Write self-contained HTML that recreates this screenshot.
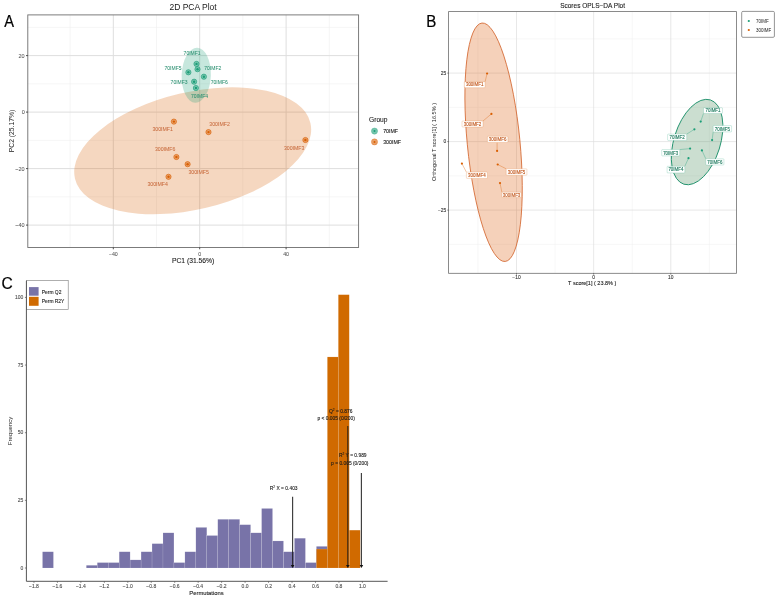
<!DOCTYPE html>
<html><head><meta charset="utf-8"><style>
html,body{margin:0;padding:0;background:#fff;}
body{width:777px;height:598px;overflow:hidden;font-family:"Liberation Sans",sans-serif;}
svg{display:block;will-change:transform;}
</style></head><body>
<svg width="777" height="598" viewBox="0 0 777 598" font-family="Liberation Sans, sans-serif">
<rect width="777" height="598" fill="#fff"/>
<line x1="70.10" y1="14.9" x2="70.10" y2="247.5" stroke="#eeeeee" stroke-width="0.6"/>
<line x1="156.50" y1="14.9" x2="156.50" y2="247.5" stroke="#eeeeee" stroke-width="0.6"/>
<line x1="242.90" y1="14.9" x2="242.90" y2="247.5" stroke="#eeeeee" stroke-width="0.6"/>
<line x1="329.30" y1="14.9" x2="329.30" y2="247.5" stroke="#eeeeee" stroke-width="0.6"/>
<line x1="27.8" y1="196.85" x2="358.6" y2="196.85" stroke="#eeeeee" stroke-width="0.6"/>
<line x1="27.8" y1="140.35" x2="358.6" y2="140.35" stroke="#eeeeee" stroke-width="0.6"/>
<line x1="27.8" y1="83.85" x2="358.6" y2="83.85" stroke="#eeeeee" stroke-width="0.6"/>
<line x1="27.8" y1="27.35" x2="358.6" y2="27.35" stroke="#eeeeee" stroke-width="0.6"/>
<line x1="113.30" y1="14.9" x2="113.30" y2="247.5" stroke="#dedede" stroke-width="1"/>
<line x1="199.70" y1="14.9" x2="199.70" y2="247.5" stroke="#dedede" stroke-width="1"/>
<line x1="286.10" y1="14.9" x2="286.10" y2="247.5" stroke="#dedede" stroke-width="1"/>
<line x1="27.8" y1="225.10" x2="358.6" y2="225.10" stroke="#dedede" stroke-width="1"/>
<line x1="27.8" y1="168.60" x2="358.6" y2="168.60" stroke="#dedede" stroke-width="1"/>
<line x1="27.8" y1="112.10" x2="358.6" y2="112.10" stroke="#dedede" stroke-width="1"/>
<line x1="27.8" y1="55.60" x2="358.6" y2="55.60" stroke="#dedede" stroke-width="1"/>
<ellipse cx="192.7" cy="150.78" rx="120.96" ry="58.59" transform="rotate(-13.31 192.7 150.78)" fill="#D95F02" fill-opacity="0.25"/>
<ellipse cx="196.25" cy="75.24" rx="14.6" ry="27.5" transform="rotate(2.1 196.25 75.24)" fill="#1B9E77" fill-opacity="0.25"/>
<circle cx="196.5" cy="63.900000000000006" r="2.6" fill="#1B9E77" fill-opacity="0.45" stroke="#1B9E77" stroke-opacity="0.85" stroke-width="0.75"/>
<circle cx="196.5" cy="63.900000000000006" r="1.2" fill="#1B9E77"/>
<circle cx="197.5" cy="69.2" r="2.6" fill="#1B9E77" fill-opacity="0.45" stroke="#1B9E77" stroke-opacity="0.85" stroke-width="0.75"/>
<circle cx="197.5" cy="69.2" r="1.2" fill="#1B9E77"/>
<circle cx="188.4" cy="72.3" r="2.6" fill="#1B9E77" fill-opacity="0.45" stroke="#1B9E77" stroke-opacity="0.85" stroke-width="0.75"/>
<circle cx="188.4" cy="72.3" r="1.2" fill="#1B9E77"/>
<circle cx="203.9" cy="76.7" r="2.6" fill="#1B9E77" fill-opacity="0.45" stroke="#1B9E77" stroke-opacity="0.85" stroke-width="0.75"/>
<circle cx="203.9" cy="76.7" r="1.2" fill="#1B9E77"/>
<circle cx="194.1" cy="81.7" r="2.6" fill="#1B9E77" fill-opacity="0.45" stroke="#1B9E77" stroke-opacity="0.85" stroke-width="0.75"/>
<circle cx="194.1" cy="81.7" r="1.2" fill="#1B9E77"/>
<circle cx="195.9" cy="88.0" r="2.6" fill="#1B9E77" fill-opacity="0.45" stroke="#1B9E77" stroke-opacity="0.85" stroke-width="0.75"/>
<circle cx="195.9" cy="88.0" r="1.2" fill="#1B9E77"/>
<circle cx="173.9" cy="121.60000000000001" r="2.6" fill="#D95F02" fill-opacity="0.45" stroke="#D95F02" stroke-opacity="0.85" stroke-width="0.75"/>
<circle cx="173.9" cy="121.60000000000001" r="1.2" fill="#D95F02"/>
<circle cx="208.5" cy="132.1" r="2.6" fill="#D95F02" fill-opacity="0.45" stroke="#D95F02" stroke-opacity="0.85" stroke-width="0.75"/>
<circle cx="208.5" cy="132.1" r="1.2" fill="#D95F02"/>
<circle cx="305.4" cy="140.0" r="2.6" fill="#D95F02" fill-opacity="0.45" stroke="#D95F02" stroke-opacity="0.85" stroke-width="0.75"/>
<circle cx="305.4" cy="140.0" r="1.2" fill="#D95F02"/>
<circle cx="176.4" cy="157.0" r="2.6" fill="#D95F02" fill-opacity="0.45" stroke="#D95F02" stroke-opacity="0.85" stroke-width="0.75"/>
<circle cx="176.4" cy="157.0" r="1.2" fill="#D95F02"/>
<circle cx="187.6" cy="164.2" r="2.6" fill="#D95F02" fill-opacity="0.45" stroke="#D95F02" stroke-opacity="0.85" stroke-width="0.75"/>
<circle cx="187.6" cy="164.2" r="1.2" fill="#D95F02"/>
<circle cx="168.5" cy="176.79999999999998" r="2.6" fill="#D95F02" fill-opacity="0.45" stroke="#D95F02" stroke-opacity="0.85" stroke-width="0.75"/>
<circle cx="168.5" cy="176.79999999999998" r="1.2" fill="#D95F02"/>
<text x="192.10" y="55.20" font-size="5" fill="#2a8f70" text-anchor="middle" stroke="#2a8f70" stroke-width="0.04" >70IMF1</text>
<text x="212.80" y="69.60" font-size="5" fill="#2a8f70" text-anchor="middle" stroke="#2a8f70" stroke-width="0.04" >70IMF2</text>
<text x="173.00" y="69.90" font-size="5" fill="#2a8f70" text-anchor="middle" stroke="#2a8f70" stroke-width="0.04" >70IMF5</text>
<text x="219.30" y="83.90" font-size="5" fill="#2a8f70" text-anchor="middle" stroke="#2a8f70" stroke-width="0.04" >70IMF6</text>
<text x="179.10" y="83.70" font-size="5" fill="#2a8f70" text-anchor="middle" stroke="#2a8f70" stroke-width="0.04" >70IMF3</text>
<text x="199.50" y="98.40" font-size="5" fill="#2a8f70" text-anchor="middle" stroke="#2a8f70" stroke-width="0.04" >70IMF4</text>
<text x="162.70" y="131.25" font-size="5.2" fill="#c86a3c" text-anchor="middle" stroke="#c86a3c" stroke-width="0.04" >300IMF1</text>
<text x="219.60" y="125.85" font-size="5.2" fill="#c86a3c" text-anchor="middle" stroke="#c86a3c" stroke-width="0.04" >300IMF2</text>
<text x="294.20" y="149.55" font-size="5.2" fill="#c86a3c" text-anchor="middle" stroke="#c86a3c" stroke-width="0.04" >300IMF3</text>
<text x="165.20" y="150.65" font-size="5.2" fill="#c86a3c" text-anchor="middle" stroke="#c86a3c" stroke-width="0.04" >300IMF6</text>
<text x="198.70" y="173.75" font-size="5.2" fill="#c86a3c" text-anchor="middle" stroke="#c86a3c" stroke-width="0.04" >300IMF5</text>
<text x="157.70" y="186.35" font-size="5.2" fill="#c86a3c" text-anchor="middle" stroke="#c86a3c" stroke-width="0.04" >300IMF4</text>
<rect x="27.8" y="14.9" width="330.80" height="232.60" fill="none" stroke="#6e6e6e" stroke-width="0.9"/>
<line x1="113.30" y1="247.5" x2="113.30" y2="249.3" stroke="#222" stroke-width="0.8"/>
<text x="113.30" y="256.10" font-size="5.3" fill="#555" text-anchor="middle" stroke="#555" stroke-width="0.05" >−40</text>
<line x1="199.70" y1="247.5" x2="199.70" y2="249.3" stroke="#222" stroke-width="0.8"/>
<text x="199.70" y="256.10" font-size="5.3" fill="#555" text-anchor="middle" stroke="#555" stroke-width="0.05" >0</text>
<line x1="286.10" y1="247.5" x2="286.10" y2="249.3" stroke="#222" stroke-width="0.8"/>
<text x="286.10" y="256.10" font-size="5.3" fill="#555" text-anchor="middle" stroke="#555" stroke-width="0.05" >40</text>
<line x1="26.0" y1="225.10" x2="27.8" y2="225.10" stroke="#222" stroke-width="0.8"/>
<text x="24.70" y="227.20" font-size="5.5" fill="#555" text-anchor="end" stroke="#555" stroke-width="0.05" >−40</text>
<line x1="26.0" y1="168.60" x2="27.8" y2="168.60" stroke="#222" stroke-width="0.8"/>
<text x="24.70" y="170.70" font-size="5.5" fill="#555" text-anchor="end" stroke="#555" stroke-width="0.05" >−20</text>
<line x1="26.0" y1="112.10" x2="27.8" y2="112.10" stroke="#222" stroke-width="0.8"/>
<text x="24.70" y="114.20" font-size="5.5" fill="#555" text-anchor="end" stroke="#555" stroke-width="0.05" >0</text>
<line x1="26.0" y1="55.60" x2="27.8" y2="55.60" stroke="#222" stroke-width="0.8"/>
<text x="24.70" y="57.70" font-size="5.5" fill="#555" text-anchor="end" stroke="#555" stroke-width="0.05" >20</text>
<text x="193.10" y="9.60" font-size="8.5" fill="#1a1a1a" text-anchor="middle" >2D PCA Plot</text>
<text x="193.10" y="263.10" font-size="6.75" fill="#1a1a1a" text-anchor="middle" stroke="#1a1a1a" stroke-width="0.1" >PC1 (31.56%)</text>
<text x="0" y="0" font-size="6.75" fill="#1a1a1a" text-anchor="middle" transform="translate(13.5 131) rotate(-90)">PC2 (25.17%)</text>
<text x="369.00" y="121.60" font-size="6.65" fill="#1a1a1a" text-anchor="start" stroke="#1a1a1a" stroke-width="0.1" >Group</text>
<circle cx="374.5" cy="131.1" r="3.1" fill="#1B9E77" fill-opacity="0.6" stroke="#1B9E77" stroke-opacity="0.5" stroke-width="0.6"/>
<circle cx="374.5" cy="131.1" r="1" fill="#1B9E77"/>
<text x="383.20" y="133.00" font-size="5.25" fill="#1a1a1a" text-anchor="start" stroke="#1a1a1a" stroke-width="0.1" >70IMF</text>
<circle cx="374.5" cy="141.9" r="3.1" fill="#D95F02" fill-opacity="0.6" stroke="#D95F02" stroke-opacity="0.5" stroke-width="0.6"/>
<circle cx="374.5" cy="141.9" r="1" fill="#D95F02"/>
<text x="383.20" y="143.80" font-size="5.25" fill="#1a1a1a" text-anchor="start" stroke="#1a1a1a" stroke-width="0.1" >300IMF</text>
<text x="0" y="0" font-size="15.6" fill="#000" stroke="#000" stroke-width="0.2" transform="translate(4.2 26.7) scale(0.94 1)">A</text>
<text x="0" y="0" font-size="15.6" fill="#000" stroke="#000" stroke-width="0.2" transform="translate(426.3 26.9) scale(0.97 1)">B</text>
<text x="0" y="0" font-size="15.6" fill="#000" stroke="#000" stroke-width="0.2" transform="translate(1.4 289.1)">C</text>
<line x1="477.92" y1="11.6" x2="477.92" y2="273.3" stroke="#eeeeee" stroke-width="0.5"/>
<line x1="555.07" y1="11.6" x2="555.07" y2="273.3" stroke="#eeeeee" stroke-width="0.5"/>
<line x1="632.23" y1="11.6" x2="632.23" y2="273.3" stroke="#eeeeee" stroke-width="0.5"/>
<line x1="709.38" y1="11.6" x2="709.38" y2="273.3" stroke="#eeeeee" stroke-width="0.5"/>
<line x1="448.6" y1="244.35" x2="736.6" y2="244.35" stroke="#eeeeee" stroke-width="0.5"/>
<line x1="448.6" y1="175.85" x2="736.6" y2="175.85" stroke="#eeeeee" stroke-width="0.5"/>
<line x1="448.6" y1="107.35" x2="736.6" y2="107.35" stroke="#eeeeee" stroke-width="0.5"/>
<line x1="448.6" y1="38.85" x2="736.6" y2="38.85" stroke="#eeeeee" stroke-width="0.5"/>
<line x1="516.50" y1="11.6" x2="516.50" y2="273.3" stroke="#dedede" stroke-width="0.7"/>
<line x1="593.65" y1="11.6" x2="593.65" y2="273.3" stroke="#dedede" stroke-width="0.7"/>
<line x1="670.80" y1="11.6" x2="670.80" y2="273.3" stroke="#dedede" stroke-width="0.7"/>
<line x1="448.6" y1="210.10" x2="736.6" y2="210.10" stroke="#dedede" stroke-width="0.7"/>
<line x1="448.6" y1="141.60" x2="736.6" y2="141.60" stroke="#dedede" stroke-width="0.7"/>
<line x1="448.6" y1="73.10" x2="736.6" y2="73.10" stroke="#dedede" stroke-width="0.7"/>
<ellipse cx="493.58" cy="142.25" rx="119.78" ry="26.36" transform="rotate(84.44 493.58 142.25)" fill="#DE6619" fill-opacity="0.3" stroke="#D2632A" stroke-width="0.8"/>
<ellipse cx="697.1" cy="142.05" rx="44.18" ry="23.19" transform="rotate(-72.56 697.1 142.05)" fill="#529162" fill-opacity="0.3" stroke="#23936F" stroke-width="0.9"/>
<circle cx="700.7" cy="121.6" r="1.1" fill="#1B9E77"/>
<circle cx="694.4" cy="129.3" r="1.1" fill="#1B9E77"/>
<circle cx="712.1" cy="140.1" r="1.1" fill="#1B9E77"/>
<circle cx="690.1" cy="148.6" r="1.1" fill="#1B9E77"/>
<circle cx="701.9" cy="150.4" r="1.1" fill="#1B9E77"/>
<circle cx="688.5" cy="158.2" r="1.1" fill="#1B9E77"/>
<circle cx="487.1" cy="73.5" r="1.1" fill="#D95F02"/>
<circle cx="491.4" cy="113.9" r="1.1" fill="#D95F02"/>
<circle cx="497.1" cy="150.9" r="1.1" fill="#D95F02"/>
<circle cx="461.9" cy="163.6" r="1.1" fill="#D95F02"/>
<circle cx="497.7" cy="164.5" r="1.1" fill="#D95F02"/>
<circle cx="500.0" cy="183.1" r="1.1" fill="#D95F02"/>
<line x1="700.7" y1="121.6" x2="703.50" y2="113.40" stroke="#1B9E77" stroke-opacity="0.7" stroke-width="0.5"/>
<rect x="703.5" y="107.7" width="19.00" height="5.70" rx="0.7" fill="#fff" stroke="#1B9E77" stroke-opacity="0.4" stroke-width="0.5"/>
<text x="0" y="0" font-size="4.8" fill="#1d7a5e" text-anchor="middle" stroke="#1d7a5e" stroke-width="0.12" transform="translate(713.00 112.30) scale(0.93 1)">70IMF1</text>
<line x1="694.4" y1="129.3" x2="686.70" y2="134.10" stroke="#1B9E77" stroke-opacity="0.7" stroke-width="0.5"/>
<rect x="667.6" y="134.1" width="19.10" height="6.30" rx="0.7" fill="#fff" stroke="#1B9E77" stroke-opacity="0.4" stroke-width="0.5"/>
<text x="0" y="0" font-size="4.8" fill="#1d7a5e" text-anchor="middle" stroke="#1d7a5e" stroke-width="0.12" transform="translate(677.15 139.00) scale(0.93 1)">70IMF2</text>
<line x1="712.1" y1="140.1" x2="713.20" y2="131.90" stroke="#1B9E77" stroke-opacity="0.7" stroke-width="0.5"/>
<rect x="713.2" y="125.6" width="18.40" height="6.30" rx="0.7" fill="#fff" stroke="#1B9E77" stroke-opacity="0.4" stroke-width="0.5"/>
<text x="0" y="0" font-size="4.8" fill="#1d7a5e" text-anchor="middle" stroke="#1d7a5e" stroke-width="0.12" transform="translate(722.40 130.50) scale(0.93 1)">70IMF5</text>
<line x1="690.1" y1="148.6" x2="679.70" y2="149.60" stroke="#1B9E77" stroke-opacity="0.7" stroke-width="0.5"/>
<rect x="661.7" y="149.6" width="18.00" height="6.30" rx="0.7" fill="#fff" stroke="#1B9E77" stroke-opacity="0.4" stroke-width="0.5"/>
<text x="0" y="0" font-size="4.8" fill="#1d7a5e" text-anchor="middle" stroke="#1d7a5e" stroke-width="0.12" transform="translate(670.70 154.50) scale(0.93 1)">70IMF3</text>
<line x1="701.9" y1="150.4" x2="705.80" y2="158.80" stroke="#1B9E77" stroke-opacity="0.7" stroke-width="0.5"/>
<rect x="705.8" y="158.8" width="18.10" height="6.20" rx="0.7" fill="#fff" stroke="#1B9E77" stroke-opacity="0.4" stroke-width="0.5"/>
<text x="0" y="0" font-size="4.8" fill="#1d7a5e" text-anchor="middle" stroke="#1d7a5e" stroke-width="0.12" transform="translate(714.85 163.65) scale(0.93 1)">70IMF6</text>
<line x1="688.5" y1="158.2" x2="684.80" y2="166.30" stroke="#1B9E77" stroke-opacity="0.7" stroke-width="0.5"/>
<rect x="667.1" y="166.3" width="17.70" height="6.60" rx="0.7" fill="#fff" stroke="#1B9E77" stroke-opacity="0.4" stroke-width="0.5"/>
<text x="0" y="0" font-size="4.8" fill="#1d7a5e" text-anchor="middle" stroke="#1d7a5e" stroke-width="0.12" transform="translate(675.95 171.35) scale(0.93 1)">70IMF4</text>
<line x1="487.1" y1="73.5" x2="485.10" y2="81.70" stroke="#D95F02" stroke-opacity="0.7" stroke-width="0.5"/>
<rect x="464.3" y="81.7" width="20.80" height="6.00" rx="0.7" fill="#fff" stroke="#D95F02" stroke-opacity="0.4" stroke-width="0.5"/>
<text x="0" y="0" font-size="4.8" fill="#c2561a" text-anchor="middle" stroke="#c2561a" stroke-width="0.12" transform="translate(474.70 86.45) scale(0.93 1)">300IMF1</text>
<line x1="491.4" y1="113.9" x2="483.00" y2="121.00" stroke="#D95F02" stroke-opacity="0.7" stroke-width="0.5"/>
<rect x="462.0" y="121.0" width="21.00" height="6.00" rx="0.7" fill="#fff" stroke="#D95F02" stroke-opacity="0.4" stroke-width="0.5"/>
<text x="0" y="0" font-size="4.8" fill="#c2561a" text-anchor="middle" stroke="#c2561a" stroke-width="0.12" transform="translate(472.50 125.75) scale(0.93 1)">300IMF2</text>
<line x1="497.1" y1="150.9" x2="497.10" y2="142.40" stroke="#D95F02" stroke-opacity="0.7" stroke-width="0.5"/>
<rect x="487.4" y="136.3" width="20.50" height="6.10" rx="0.7" fill="#fff" stroke="#D95F02" stroke-opacity="0.4" stroke-width="0.5"/>
<text x="0" y="0" font-size="4.8" fill="#c2561a" text-anchor="middle" stroke="#c2561a" stroke-width="0.12" transform="translate(497.65 141.10) scale(0.93 1)">300IMF6</text>
<line x1="461.9" y1="163.6" x2="466.40" y2="172.10" stroke="#D95F02" stroke-opacity="0.7" stroke-width="0.5"/>
<rect x="466.4" y="172.1" width="21.00" height="6.30" rx="0.7" fill="#fff" stroke="#D95F02" stroke-opacity="0.4" stroke-width="0.5"/>
<text x="0" y="0" font-size="4.8" fill="#c2561a" text-anchor="middle" stroke="#c2561a" stroke-width="0.12" transform="translate(476.90 177.00) scale(0.93 1)">300IMF4</text>
<line x1="497.7" y1="164.5" x2="506.20" y2="168.80" stroke="#D95F02" stroke-opacity="0.7" stroke-width="0.5"/>
<rect x="506.2" y="168.8" width="20.70" height="6.40" rx="0.7" fill="#fff" stroke="#D95F02" stroke-opacity="0.4" stroke-width="0.5"/>
<text x="0" y="0" font-size="4.8" fill="#c2561a" text-anchor="middle" stroke="#c2561a" stroke-width="0.12" transform="translate(516.55 173.75) scale(0.93 1)">300IMF5</text>
<line x1="500.0" y1="183.1" x2="501.90" y2="192.20" stroke="#D95F02" stroke-opacity="0.7" stroke-width="0.5"/>
<rect x="501.9" y="192.2" width="19.30" height="5.40" rx="0.7" fill="#fff" stroke="#D95F02" stroke-opacity="0.4" stroke-width="0.5"/>
<text x="0" y="0" font-size="4.8" fill="#c2561a" text-anchor="middle" stroke="#c2561a" stroke-width="0.12" transform="translate(511.55 196.65) scale(0.93 1)">300IMF3</text>
<rect x="448.6" y="11.6" width="288.00" height="261.70" fill="none" stroke="#6e6e6e" stroke-width="0.8"/>
<line x1="516.50" y1="273.3" x2="516.50" y2="274.6" stroke="#333" stroke-width="0.6"/>
<text x="516.50" y="279.00" font-size="4.9" fill="#333" text-anchor="middle" stroke="#333" stroke-width="0.1" >−10</text>
<line x1="593.65" y1="273.3" x2="593.65" y2="274.6" stroke="#333" stroke-width="0.6"/>
<text x="593.65" y="279.00" font-size="4.9" fill="#333" text-anchor="middle" stroke="#333" stroke-width="0.1" >0</text>
<line x1="670.80" y1="273.3" x2="670.80" y2="274.6" stroke="#333" stroke-width="0.6"/>
<text x="670.80" y="279.00" font-size="4.9" fill="#333" text-anchor="middle" stroke="#333" stroke-width="0.1" >10</text>
<line x1="447.3" y1="210.10" x2="448.6" y2="210.10" stroke="#333" stroke-width="0.6"/>
<text x="446.30" y="211.85" font-size="4.9" fill="#333" text-anchor="end" stroke="#333" stroke-width="0.1" >−25</text>
<line x1="447.3" y1="141.60" x2="448.6" y2="141.60" stroke="#333" stroke-width="0.6"/>
<text x="446.30" y="143.35" font-size="4.9" fill="#333" text-anchor="end" stroke="#333" stroke-width="0.1" >0</text>
<line x1="447.3" y1="73.10" x2="448.6" y2="73.10" stroke="#333" stroke-width="0.6"/>
<text x="446.30" y="74.85" font-size="4.9" fill="#333" text-anchor="end" stroke="#333" stroke-width="0.1" >25</text>
<text x="592.60" y="7.50" font-size="6.5" fill="#1a1a1a" text-anchor="middle" stroke="#1a1a1a" stroke-width="0.1" >Scores OPLS−DA Plot</text>
<text x="592.20" y="285.40" font-size="5.5" fill="#1a1a1a" text-anchor="middle" stroke="#1a1a1a" stroke-width="0.1" >T score[1] ( 23.8% )</text>
<text x="0" y="0" font-size="5.6" fill="#1a1a1a" text-anchor="middle" transform="translate(436.2 142) rotate(-90)">Orthogonal T score[1] ( 16.5% )</text>
<rect x="741.7" y="11.4" width="32.7" height="25.9" rx="1.2" fill="#fff" stroke="#7a7a7a" stroke-width="0.8"/>
<circle cx="748.8" cy="21" r="1.1" fill="#1B9E77"/>
<circle cx="748.8" cy="30" r="1.1" fill="#D95F02"/>
<text x="0" y="0" font-size="5.1" fill="#1a1a1a" text-anchor="start" transform="translate(756.00 22.90) scale(0.88 1)">70IMF</text>
<text x="0" y="0" font-size="5.1" fill="#1a1a1a" text-anchor="start" transform="translate(756.00 31.90) scale(0.88 1)">300IMF</text>
<rect x="42.48" y="551.76" width="10.96" height="16.24" fill="#7873A8" stroke="#ffffff" stroke-opacity="0.35" stroke-width="0.35"/>
<rect x="86.30" y="565.29" width="10.96" height="2.71" fill="#7873A8" stroke="#ffffff" stroke-opacity="0.35" stroke-width="0.35"/>
<rect x="97.26" y="562.59" width="10.96" height="5.41" fill="#7873A8" stroke="#ffffff" stroke-opacity="0.35" stroke-width="0.35"/>
<rect x="108.21" y="562.59" width="10.96" height="5.41" fill="#7873A8" stroke="#ffffff" stroke-opacity="0.35" stroke-width="0.35"/>
<rect x="119.17" y="551.76" width="10.96" height="16.24" fill="#7873A8" stroke="#ffffff" stroke-opacity="0.35" stroke-width="0.35"/>
<rect x="130.12" y="559.88" width="10.96" height="8.12" fill="#7873A8" stroke="#ffffff" stroke-opacity="0.35" stroke-width="0.35"/>
<rect x="141.08" y="551.76" width="10.96" height="16.24" fill="#7873A8" stroke="#ffffff" stroke-opacity="0.35" stroke-width="0.35"/>
<rect x="152.04" y="543.65" width="10.96" height="24.35" fill="#7873A8" stroke="#ffffff" stroke-opacity="0.35" stroke-width="0.35"/>
<rect x="162.99" y="532.82" width="10.96" height="35.18" fill="#7873A8" stroke="#ffffff" stroke-opacity="0.35" stroke-width="0.35"/>
<rect x="173.95" y="562.59" width="10.96" height="5.41" fill="#7873A8" stroke="#ffffff" stroke-opacity="0.35" stroke-width="0.35"/>
<rect x="184.90" y="551.76" width="10.96" height="16.24" fill="#7873A8" stroke="#ffffff" stroke-opacity="0.35" stroke-width="0.35"/>
<rect x="195.86" y="527.41" width="10.96" height="40.59" fill="#7873A8" stroke="#ffffff" stroke-opacity="0.35" stroke-width="0.35"/>
<rect x="206.82" y="535.53" width="10.96" height="32.47" fill="#7873A8" stroke="#ffffff" stroke-opacity="0.35" stroke-width="0.35"/>
<rect x="217.77" y="519.29" width="10.96" height="48.71" fill="#7873A8" stroke="#ffffff" stroke-opacity="0.35" stroke-width="0.35"/>
<rect x="228.73" y="519.29" width="10.96" height="48.71" fill="#7873A8" stroke="#ffffff" stroke-opacity="0.35" stroke-width="0.35"/>
<rect x="239.68" y="524.70" width="10.96" height="43.30" fill="#7873A8" stroke="#ffffff" stroke-opacity="0.35" stroke-width="0.35"/>
<rect x="250.64" y="532.82" width="10.96" height="35.18" fill="#7873A8" stroke="#ffffff" stroke-opacity="0.35" stroke-width="0.35"/>
<rect x="261.60" y="508.47" width="10.96" height="59.53" fill="#7873A8" stroke="#ffffff" stroke-opacity="0.35" stroke-width="0.35"/>
<rect x="272.55" y="540.94" width="10.96" height="27.06" fill="#7873A8" stroke="#ffffff" stroke-opacity="0.35" stroke-width="0.35"/>
<rect x="283.51" y="551.76" width="10.96" height="16.24" fill="#7873A8" stroke="#ffffff" stroke-opacity="0.35" stroke-width="0.35"/>
<rect x="294.46" y="538.23" width="10.96" height="29.77" fill="#7873A8" stroke="#ffffff" stroke-opacity="0.35" stroke-width="0.35"/>
<rect x="305.42" y="562.59" width="10.96" height="5.41" fill="#7873A8" stroke="#ffffff" stroke-opacity="0.35" stroke-width="0.35"/>
<rect x="316.38" y="546.35" width="10.96" height="21.65" fill="#7873A8" stroke="#ffffff" stroke-opacity="0.35" stroke-width="0.35"/>
<rect x="316.38" y="549.06" width="10.96" height="18.94" fill="#D06A00" stroke="#ffffff" stroke-opacity="0.35" stroke-width="0.35"/>
<rect x="327.33" y="356.93" width="10.96" height="211.07" fill="#D06A00" stroke="#ffffff" stroke-opacity="0.35" stroke-width="0.35"/>
<rect x="338.29" y="294.69" width="10.96" height="273.31" fill="#D06A00" stroke="#ffffff" stroke-opacity="0.35" stroke-width="0.35"/>
<rect x="349.24" y="530.12" width="10.96" height="37.88" fill="#D06A00" stroke="#ffffff" stroke-opacity="0.35" stroke-width="0.35"/>
<line x1="33.96" y1="581.3" x2="33.96" y2="582.8" stroke="#333" stroke-width="0.6"/>
<text x="33.96" y="588.00" font-size="5" fill="#4d4d4d" text-anchor="middle" stroke="#4d4d4d" stroke-width="0.1" >−1.8</text>
<line x1="57.42" y1="581.3" x2="57.42" y2="582.8" stroke="#333" stroke-width="0.6"/>
<text x="57.42" y="588.00" font-size="5" fill="#4d4d4d" text-anchor="middle" stroke="#4d4d4d" stroke-width="0.1" >−1.6</text>
<line x1="80.88" y1="581.3" x2="80.88" y2="582.8" stroke="#333" stroke-width="0.6"/>
<text x="80.88" y="588.00" font-size="5" fill="#4d4d4d" text-anchor="middle" stroke="#4d4d4d" stroke-width="0.1" >−1.4</text>
<line x1="104.34" y1="581.3" x2="104.34" y2="582.8" stroke="#333" stroke-width="0.6"/>
<text x="104.34" y="588.00" font-size="5" fill="#4d4d4d" text-anchor="middle" stroke="#4d4d4d" stroke-width="0.1" >−1.2</text>
<line x1="127.80" y1="581.3" x2="127.80" y2="582.8" stroke="#333" stroke-width="0.6"/>
<text x="127.80" y="588.00" font-size="5" fill="#4d4d4d" text-anchor="middle" stroke="#4d4d4d" stroke-width="0.1" >−1.0</text>
<line x1="151.26" y1="581.3" x2="151.26" y2="582.8" stroke="#333" stroke-width="0.6"/>
<text x="151.26" y="588.00" font-size="5" fill="#4d4d4d" text-anchor="middle" stroke="#4d4d4d" stroke-width="0.1" >−0.8</text>
<line x1="174.72" y1="581.3" x2="174.72" y2="582.8" stroke="#333" stroke-width="0.6"/>
<text x="174.72" y="588.00" font-size="5" fill="#4d4d4d" text-anchor="middle" stroke="#4d4d4d" stroke-width="0.1" >−0.6</text>
<line x1="198.18" y1="581.3" x2="198.18" y2="582.8" stroke="#333" stroke-width="0.6"/>
<text x="198.18" y="588.00" font-size="5" fill="#4d4d4d" text-anchor="middle" stroke="#4d4d4d" stroke-width="0.1" >−0.4</text>
<line x1="221.64" y1="581.3" x2="221.64" y2="582.8" stroke="#333" stroke-width="0.6"/>
<text x="221.64" y="588.00" font-size="5" fill="#4d4d4d" text-anchor="middle" stroke="#4d4d4d" stroke-width="0.1" >−0.2</text>
<line x1="245.10" y1="581.3" x2="245.10" y2="582.8" stroke="#333" stroke-width="0.6"/>
<text x="245.10" y="588.00" font-size="5" fill="#4d4d4d" text-anchor="middle" stroke="#4d4d4d" stroke-width="0.1" >0.0</text>
<line x1="268.56" y1="581.3" x2="268.56" y2="582.8" stroke="#333" stroke-width="0.6"/>
<text x="268.56" y="588.00" font-size="5" fill="#4d4d4d" text-anchor="middle" stroke="#4d4d4d" stroke-width="0.1" >0.2</text>
<line x1="292.02" y1="581.3" x2="292.02" y2="582.8" stroke="#333" stroke-width="0.6"/>
<text x="292.02" y="588.00" font-size="5" fill="#4d4d4d" text-anchor="middle" stroke="#4d4d4d" stroke-width="0.1" >0.4</text>
<line x1="315.48" y1="581.3" x2="315.48" y2="582.8" stroke="#333" stroke-width="0.6"/>
<text x="315.48" y="588.00" font-size="5" fill="#4d4d4d" text-anchor="middle" stroke="#4d4d4d" stroke-width="0.1" >0.6</text>
<line x1="338.94" y1="581.3" x2="338.94" y2="582.8" stroke="#333" stroke-width="0.6"/>
<text x="338.94" y="588.00" font-size="5" fill="#4d4d4d" text-anchor="middle" stroke="#4d4d4d" stroke-width="0.1" >0.8</text>
<line x1="362.40" y1="581.3" x2="362.40" y2="582.8" stroke="#333" stroke-width="0.6"/>
<text x="362.40" y="588.00" font-size="5" fill="#4d4d4d" text-anchor="middle" stroke="#4d4d4d" stroke-width="0.1" >1.0</text>
<line x1="24.9" y1="568.00" x2="26.4" y2="568.00" stroke="#333" stroke-width="0.6"/>
<text x="23.40" y="569.70" font-size="5" fill="#4d4d4d" text-anchor="end" stroke="#4d4d4d" stroke-width="0.1" >0</text>
<line x1="24.9" y1="500.35" x2="26.4" y2="500.35" stroke="#333" stroke-width="0.6"/>
<text x="23.40" y="502.05" font-size="5" fill="#4d4d4d" text-anchor="end" stroke="#4d4d4d" stroke-width="0.1" >25</text>
<line x1="24.9" y1="432.70" x2="26.4" y2="432.70" stroke="#333" stroke-width="0.6"/>
<text x="23.40" y="434.40" font-size="5" fill="#4d4d4d" text-anchor="end" stroke="#4d4d4d" stroke-width="0.1" >50</text>
<line x1="24.9" y1="365.05" x2="26.4" y2="365.05" stroke="#333" stroke-width="0.6"/>
<text x="23.40" y="366.75" font-size="5" fill="#4d4d4d" text-anchor="end" stroke="#4d4d4d" stroke-width="0.1" >75</text>
<line x1="24.9" y1="297.40" x2="26.4" y2="297.40" stroke="#333" stroke-width="0.6"/>
<text x="23.40" y="299.10" font-size="5" fill="#4d4d4d" text-anchor="end" stroke="#4d4d4d" stroke-width="0.1" >100</text>
<text x="206.50" y="595.10" font-size="5.85" fill="#1a1a1a" text-anchor="middle" stroke="#1a1a1a" stroke-width="0.1" >Permutations</text>
<text x="0" y="0" font-size="6" fill="#1a1a1a" text-anchor="middle" transform="translate(12.2 431) rotate(-90)">Frequency</text>
<line x1="292.6" y1="496.8" x2="292.6" y2="565.50" stroke="#1a1a1a" stroke-opacity="0.85" stroke-width="1.15"/>
<path d="M290.80,565.10 L294.40,565.10 L292.6,568.00 Z" fill="#111"/>
<line x1="347.8" y1="426.1" x2="347.8" y2="565.50" stroke="#1a1a1a" stroke-opacity="0.85" stroke-width="1.15"/>
<path d="M346.00,565.10 L349.60,565.10 L347.8,568.00 Z" fill="#111"/>
<line x1="361.4" y1="472.9" x2="361.4" y2="565.50" stroke="#1a1a1a" stroke-opacity="0.85" stroke-width="1.15"/>
<path d="M359.60,565.10 L363.20,565.10 L361.4,568.00 Z" fill="#111"/>
<text x="283.70" y="489.60" font-size="4.9" fill="#1a1a1a" text-anchor="middle" stroke="#1a1a1a" stroke-width="0.1" >R<tspan font-size="3.2" dy="-1.7">2</tspan><tspan dy="1.7"> X = 0.403</tspan></text>
<text x="340.70" y="412.50" font-size="4.9" fill="#1a1a1a" text-anchor="middle" stroke="#1a1a1a" stroke-width="0.1" >Q<tspan font-size="3.2" dy="-1.7">2</tspan><tspan dy="1.7"> = 0.876</tspan></text>
<text x="336.10" y="420.20" font-size="4.9" fill="#1a1a1a" text-anchor="middle" stroke="#1a1a1a" stroke-width="0.1" >p &lt; 0.005 (0/200)</text>
<text x="352.80" y="456.60" font-size="4.9" fill="#1a1a1a" text-anchor="middle" stroke="#1a1a1a" stroke-width="0.1" >R<tspan font-size="3.2" dy="-1.7">2</tspan><tspan dy="1.7"> Y = 0.989</tspan></text>
<text x="349.80" y="464.60" font-size="4.9" fill="#1a1a1a" text-anchor="middle" stroke="#1a1a1a" stroke-width="0.1" >p = 0.005 (0/200)</text>
<rect x="26.4" y="280.6" width="41.8" height="28.7" fill="#fff" stroke="#7a7a7a" stroke-width="0.6"/>
<rect x="29" y="287.1" width="9.6" height="8.6" fill="#7873A8"/>
<rect x="29" y="296.8" width="9.6" height="9" fill="#D06A00"/>
<text x="41.80" y="293.90" font-size="4.9" fill="#1a1a1a" text-anchor="start" stroke="#1a1a1a" stroke-width="0.1" >Perm Q2</text>
<text x="41.80" y="303.30" font-size="4.9" fill="#1a1a1a" text-anchor="start" stroke="#1a1a1a" stroke-width="0.1" >Perm R2Y</text>
<line x1="26.4" y1="281" x2="26.4" y2="581.3" stroke="#555" stroke-width="1"/>
<line x1="26.4" y1="581.3" x2="387.6" y2="581.3" stroke="#555" stroke-width="1"/>
</svg>
</body></html>
